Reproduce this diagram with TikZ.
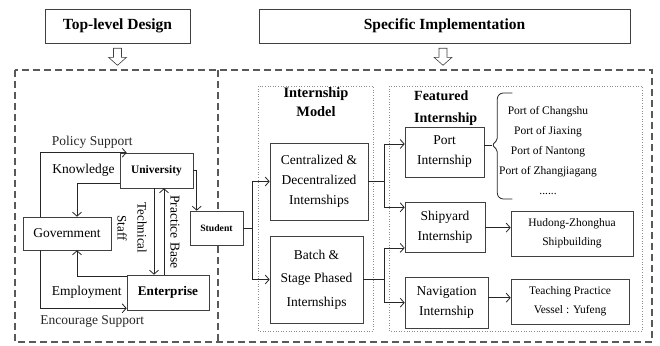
\documentclass[tikz,border=0pt]{standalone}
\usepackage{fontspec}
\setmainfont{Liberation Serif}
\usetikzlibrary{arrows.meta,positioning}

\begin{document}
\begin{tikzpicture}[x=1pt, y=-1pt,
    title/.style={draw=black!75, semithick, minimum height=34pt, inner sep=0pt,
                  font=\fontsize{15.5}{18}\selectfont\bfseries},
    box/.style={draw=black!75, semithick, fill=white, align=center, inner sep=0pt,
                font=\fontsize{13.5}{20}\selectfont},
    sbox/.style={box, font=\fontsize{11.5}{19}\selectfont},
    lbl/.style={font=\fontsize{13.5}{16}\selectfont, inner sep=0pt},
    head/.style={font=\fontsize{14.4}{19}\selectfont\bfseries, align=center, inner sep=0pt},
    arr/.style={-{Straight Barb[length=4pt,width=9pt]}, black!85, line width=0.8pt},
    link/.style={black!85, line width=0.8pt},
    hollow/.style={draw=black!75, semithick, fill=white},
    region/.style={draw=black!65, line width=1.3pt, dash pattern=on 7pt off 4pt},
    panel/.style={draw=black!45, dotted, line width=0.6pt}
  ]
  \useasboundingbox (0,0) rectangle (660,345);

  % dashed regions and dotted panels
  \draw[region] (15,70) rectangle (652,342);
  \draw[region] (218,70) -- (218,342);
  \draw[panel] (258,86) rectangle (373,331);
  \draw[panel] (389,86) rectangle (642,331);

  % headings
  \node[title, minimum width=145pt] (top) at (117.5,26) {Top-level Design};
  \node[title, minimum width=371pt] (impl) at (444.5,26) {Specific Implementation};
  \draw[hollow] ([xshift=-4pt,yshift=-5pt]top.south) -- ++(0pt,-9pt) -- ++(-5pt,0pt)
    -- ++(9pt,-8pt) -- ++(9pt,8pt) -- ++(-5pt,0pt) -- ++(0pt,9pt) -- cycle;
  \draw[hollow] ([xshift=-5.5pt,yshift=-5pt]impl.south) -- ++(0pt,-9pt) -- ++(-5pt,0pt)
    -- ++(9pt,-8pt) -- ++(9pt,8pt) -- ++(-5pt,0pt) -- ++(0pt,9pt) -- cycle;

  % top-level design
  \node[box, minimum width=73pt, minimum height=35pt,
        font=\fontsize{11.4}{14}\selectfont\bfseries] (univ) at (156.5,170.5) {University};
  \node[box, minimum width=88pt, minimum height=33pt] (gov) at (67,233.5) {Government};
  \node[box, minimum width=82pt, minimum height=35pt,
        font=\fontsize{13.2}{16}\selectfont\bfseries] (ent) at (168,292.5) {Enterprise};
  \node[box, minimum width=53pt, minimum height=34pt,
        font=\fontsize{9.7}{12}\selectfont\bfseries] (stud) at (216.5,228) {Student};

  \draw[arr] ([xshift=18pt]gov.north west) |- ([xshift=7pt]univ.north west)
    node[lbl, pos=0.8, above=4pt] {Policy Support};
  \node[lbl, left=5pt of univ] (know) {Knowledge};
  \draw[arr] ([yshift=5pt]univ.south west) -| ([xshift=10pt]gov.north);
  \draw[arr] (univ.east) -| ([xshift=7pt]stud.north west);
  \draw[arr] ([xshift=-2.5pt]univ.south) -- ([xshift=-2.5pt]univ.south |- ent.north);
  \draw[arr] ([xshift=7.5pt]univ.south |- ent.north) -- ([xshift=7.5pt]univ.south);
  \node[lbl, rotate=-90, align=center, font=\fontsize{13}{20}\selectfont] (staff) at (132,228) {Technical\\Staff};
  \node[lbl, rotate=-90] (base) at (175,232) {Practice Base};
  \draw[arr] ([yshift=-2pt]ent.north west) -| ([xshift=10pt]gov.south);
  \node[lbl, left=5pt of ent] (empl) {Employment};
  \draw[arr] ([xshift=18pt]gov.south west) |- ([yshift=2pt]ent.south west)
    node[lbl, pos=0.8, below=7pt] {Encourage Support};

  % internship model
  \node[head] (mtitle) at (316,102) {Internship\\Model};
  \node[box, minimum width=98pt, minimum height=77pt] (central) at (319,181.5)
    {Centralized \&\\Decentralized\\Internships};
  \node[box, minimum width=93pt, minimum height=87pt,
        font=\fontsize{13.5}{23.5}\selectfont] (batch) at (316.5,279.5)
    {Batch \&\\Stage Phased\\Internships};
  \coordinate (sfork) at ([xshift=9pt]stud.east);
  \draw[link] (stud.east) -- (sfork);
  \draw[arr] (sfork) |- (central.west);
  \draw[arr] (sfork) |- (batch.west);

  % featured internship
  \node[head, align=left, anchor=west, font=\fontsize{14}{22}\selectfont\bfseries] (ftitle) at (414,108)
    {Featured\\Internship};
  \node[box, minimum width=79pt, minimum height=50pt] (port) at (444.5,152) {Port\\Internship};
  \node[box, minimum width=80pt, minimum height=50pt,
        below=25pt of port.south west, anchor=north west] (ship) {Shipyard\\Internship};
  \node[box, minimum width=83pt, minimum height=51pt,
        below=24pt of ship.south west, anchor=north west] (navi) {Navigation\\Internship};

  \coordinate (cfork) at ([xshift=16pt]central.east);
  \draw[link] (central.east) -- (cfork);
  \draw[arr] (cfork) |- ([yshift=8pt]port.west);
  \draw[arr] (cfork) |- ([yshift=-5pt]ship.north west);
  \coordinate (bfork) at ([xshift=21pt]batch.east);
  \draw[link] (batch.east) -- (bfork);
  \draw[arr] (bfork) |- ([yshift=5pt]ship.south west);
  \draw[arr] (bfork) |- (navi.west);

  % ports list with its brace
  \node[font=\fontsize{11.5}{20}\selectfont, align=center, inner sep=0pt] (ports) at (548,151)
    {Port of Changshu\\Port of Jiaxing\\Port of Nantong\\Port of Zhangjiagang\\......};
  \coordinate (tip) at ([xshift=8pt,yshift=7pt]port.east);
  \draw[link] ([yshift=7pt]port.east) -- (tip);
  \draw[link, rounded corners=6pt] ([shift={(20pt,52pt)}]tip) -- ([shift={(5pt,52pt)}]tip)
    [rounded corners=2pt] -- ([shift={(5pt,5pt)}]tip) -- (tip) -- ([shift={(5pt,-5pt)}]tip)
    [rounded corners=6pt] -- ([shift={(5pt,-54pt)}]tip) -- ([shift={(20pt,-54pt)}]tip);

  \node[sbox, minimum width=122pt, minimum height=45pt] (hudong) at (572,233.5)
    {Hudong-Zhonghua\\Shipbuilding};
  \node[sbox, minimum width=118pt, minimum height=45pt] (teach) at (570,301.5)
    {Teaching Practice\\Vessel : Yufeng};
  \draw[arr] (ship.east) -- (ship.east -| hudong.west);
  \draw[arr] ([yshift=5pt]navi.east) -- ([yshift=5pt]navi.east -| teach.west);
\end{tikzpicture}
\end{document}
